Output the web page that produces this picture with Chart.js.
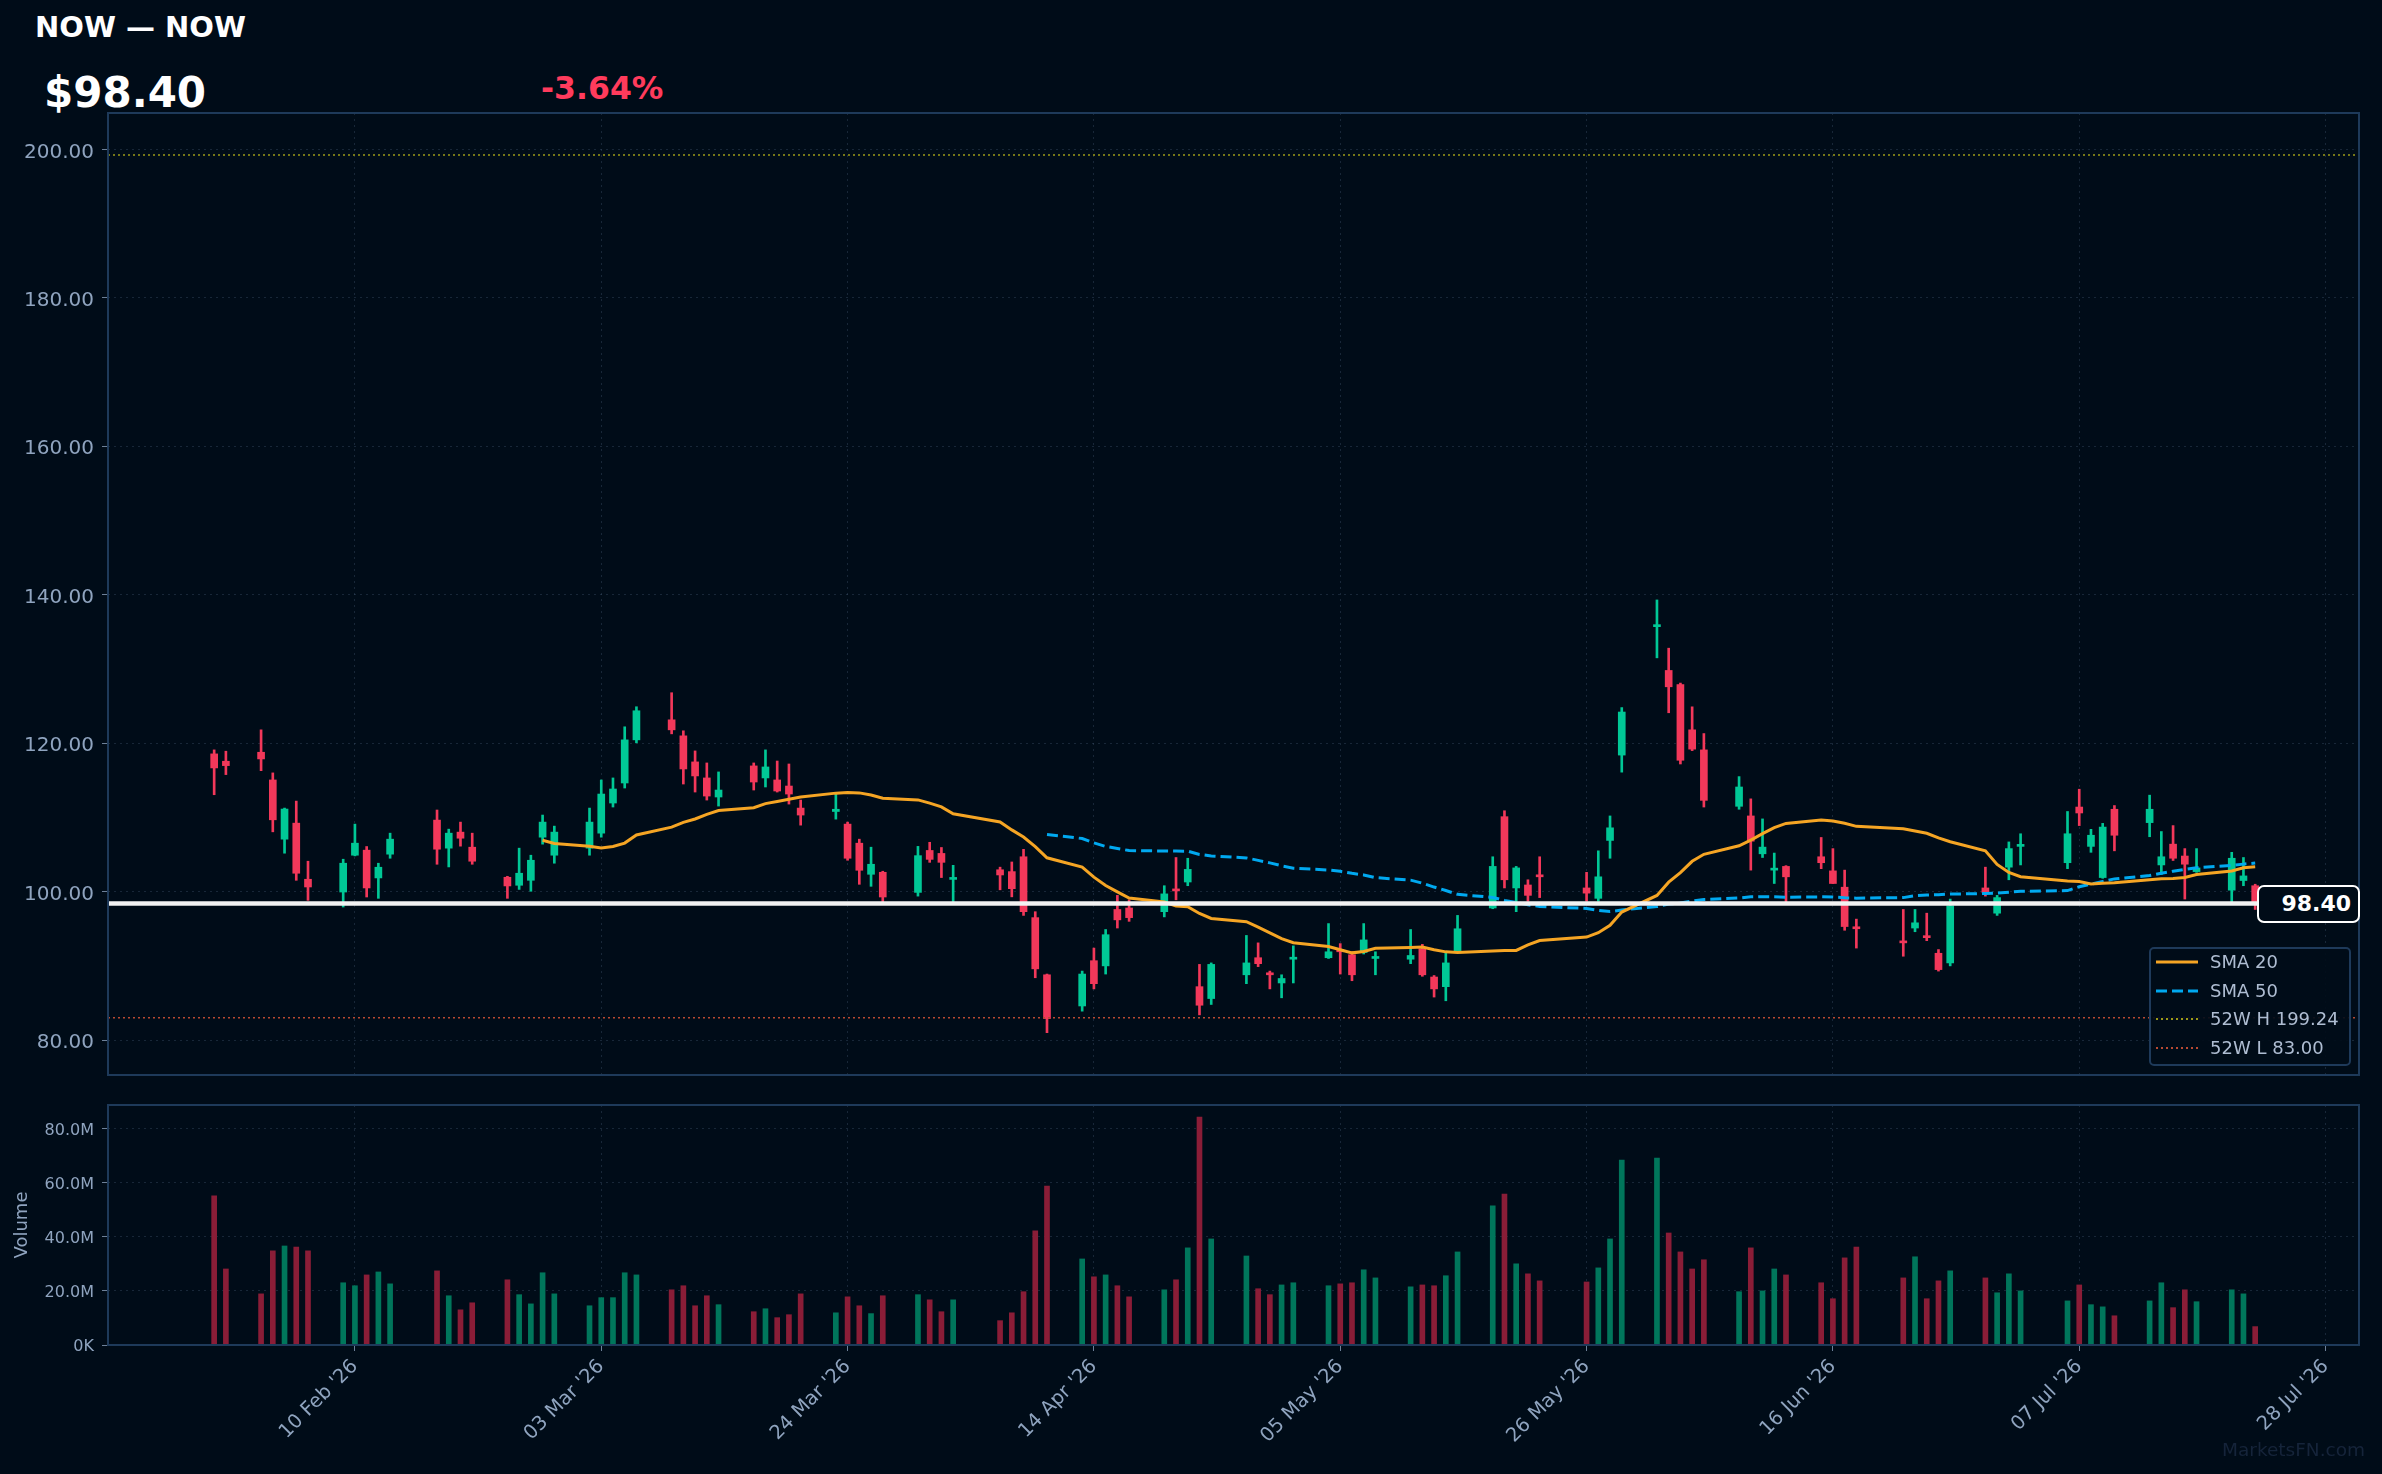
<!DOCTYPE html>
<html>
<head>
<meta charset="utf-8">
<script src="https://cdn.jsdelivr.net/npm/chart.js@4.4.1/dist/chart.umd.min.js"></script>
<style>
  html, body { margin:0; padding:0; background:#000c18; width:2382px; height:1474px; overflow:hidden; font-family:"DejaVu Sans", sans-serif; }
  canvas { position:absolute; left:0; top:0; }
  .t { position:absolute; white-space:nowrap; line-height:1; }
  #legend { position:absolute; left:2149px; top:947px; width:202px; height:119px; box-sizing:border-box;
            border:2px solid #1e3a5a; border-radius:5px; background:rgba(0,12,24,0.9); }
  #legend .row { position:absolute; left:5px; height:20px; line-height:20px; font-size:18px; color:#aebdd2; white-space:nowrap; }
  #legend svg { position:absolute; left:0; top:6px; }
  #legend span { position:absolute; left:54px; top:0; }
  #lastTag { position:absolute; left:2257px; width:103px; height:38px; box-sizing:border-box; border:2.5px solid #fff;
             border-radius:7px; background:#000c18; color:#fff; font-weight:bold; font-size:22px; line-height:33px;
             text-align:right; padding-right:7px; }
</style>
</head>
<body>
<div class="t" style="left:35px;top:13px;font-size:29px;font-weight:bold;color:#fff">NOW — NOW</div>
<div class="t" style="left:44px;top:72px;font-size:42px;font-weight:bold;color:#fff">$98.40</div>
<div class="t" style="left:541px;top:73px;font-size:31.5px;font-weight:bold;color:#ff3b5c">-3.64%</div>
<canvas id="main" width="2382" height="1474"></canvas>
<canvas id="vol" width="2382" height="1474"></canvas>
<div id="legend"></div>
<div id="lastTag"></div>
<div class="t" style="left:2222px;top:1441px;font-size:18.5px;color:#15243a">MarketsFN.com</div>
<script>
// daily candles
const dates = [
  '2026-01-29','2026-01-30',
  '2026-02-02','2026-02-03','2026-02-04','2026-02-05','2026-02-06',
  '2026-02-09','2026-02-10','2026-02-11','2026-02-12','2026-02-13',
  '2026-02-17','2026-02-18','2026-02-19','2026-02-20',
  '2026-02-23','2026-02-24','2026-02-25','2026-02-26','2026-02-27',
  '2026-03-02','2026-03-03','2026-03-04','2026-03-05','2026-03-06',
  '2026-03-09','2026-03-10','2026-03-11','2026-03-12','2026-03-13',
  '2026-03-16','2026-03-17','2026-03-18','2026-03-19','2026-03-20',
  '2026-03-23','2026-03-24','2026-03-25','2026-03-26','2026-03-27',
  '2026-03-30','2026-03-31','2026-04-01','2026-04-02',
  '2026-04-06','2026-04-07','2026-04-08','2026-04-09','2026-04-10',
  '2026-04-13','2026-04-14','2026-04-15','2026-04-16','2026-04-17',
  '2026-04-20','2026-04-21','2026-04-22','2026-04-23','2026-04-24',
  '2026-04-27','2026-04-28','2026-04-29','2026-04-30','2026-05-01',
  '2026-05-04','2026-05-05','2026-05-06','2026-05-07','2026-05-08',
  '2026-05-11','2026-05-12','2026-05-13','2026-05-14','2026-05-15',
  '2026-05-18','2026-05-19','2026-05-20','2026-05-21','2026-05-22',
  '2026-05-26','2026-05-27','2026-05-28','2026-05-29',
  '2026-06-01','2026-06-02','2026-06-03','2026-06-04','2026-06-05',
  '2026-06-08','2026-06-09','2026-06-10','2026-06-11','2026-06-12',
  '2026-06-15','2026-06-16','2026-06-17','2026-06-18',
  '2026-06-22','2026-06-23','2026-06-24','2026-06-25','2026-06-26',
  '2026-06-29','2026-06-30','2026-07-01','2026-07-02',
  '2026-07-06','2026-07-07','2026-07-08','2026-07-09','2026-07-10',
  '2026-07-13','2026-07-14','2026-07-15','2026-07-16','2026-07-17',
  '2026-07-20','2026-07-21','2026-07-22'
];
const opens = [
  118.56,117.57, 118.78,115.05,107.07,109.23,101.67, 99.95,104.91,105.59,101.85,105.05,
  109.64,105.86,108.02,105.99, 101.94,100.86,101.53,107.34,104.91,
  105.86,107.88,111.94,114.64,120.45, 123.15,120.99,117.48,115.32,112.75,
  116.94,115.32,115.05,114.23,111.26, 110.80,109.10,106.53,102.34,102.61,
  99.90,105.55,105.15,101.65, 102.95,102.70,104.70,96.50,88.80,
  84.60,90.70,90.00,97.60,97.80, 97.30,100.30,101.30,87.20,85.60,
  88.80,91.10,88.90,87.70,90.90, 91.10,92.20,91.50,91.80,91.00,
  90.90,92.30,88.50,87.20,91.90, 97.80,110.10,100.50,100.90,102.10,
  100.50,99.10,106.90,118.40, 135.70,129.80,127.90,121.80,119.10,
  111.50,110.20,105.10,102.90,103.40, 104.70,102.80,100.60,95.20,
  93.20,95.10,93.95,91.70,90.40, 100.50,97.10,103.30,106.10,
  103.90,111.40,106.10,101.90,111.10, 109.30,103.60,106.40,104.80,102.70,
  100.20,101.50,100.80
];
const highs = [
  119.10,118.92, 121.80,116.00,111.26,112.20,104.10, 104.37,109.10,106.08,103.83,107.88,
  111.00,108.42,109.37,107.88, 102.07,105.86,104.91,110.32,108.83,
  111.26,115.05,115.32,122.21,124.91, 126.80,121.67,118.96,117.34,116.13,
  117.34,119.10,117.60,117.20,112.34, 113.15,109.37,107.07,105.99,102.75,
  106.10,106.65,105.95,103.55, 103.30,104.00,105.70,97.30,88.90,
  89.30,92.40,94.90,99.50,98.90, 100.80,104.60,104.50,90.20,90.40,
  94.10,93.10,89.30,88.80,92.70, 95.70,93.00,91.90,95.70,91.90,
  94.90,92.90,88.70,91.90,96.80, 104.70,110.90,103.40,101.60,104.70,
  102.60,105.50,110.20,124.80, 139.30,132.80,128.10,124.90,121.30,
  115.50,112.50,109.80,105.20,103.50, 107.30,105.80,102.90,96.30,
  97.60,97.60,97.10,92.20,99.00, 103.30,99.50,106.70,107.80,
  110.80,113.80,108.40,109.20,111.60, 113.00,108.10,108.90,105.80,105.80,
  105.30,104.60,101.00
];
const lows = [
  113.06,115.77, 116.30,108.06,105.18,101.53,98.83, 97.93,104.82,99.28,99.10,104.50,
  103.69,103.33,106.13,103.69, 99.10,100.30,100.05,106.40,103.83,
  104.91,107.34,111.40,113.96,120.05, 121.26,114.50,113.42,112.34,111.53,
  113.69,114.10,113.42,111.80,108.96, 109.77,104.23,100.99,100.72,98.50,
  99.40,103.95,101.90,98.45, 100.25,99.30,96.80,88.40,81.00,
  83.90,86.90,88.90,95.10,96.00, 96.60,98.90,100.80,83.40,84.80,
  87.60,89.90,86.90,85.70,87.70, 91.00,88.90,88.00,91.60,88.80,
  90.30,88.60,85.80,85.30,91.80, 97.70,100.50,97.30,98.70,99.20,
  98.70,98.70,104.50,116.10, 131.50,124.10,117.20,119.00,111.40,
  111.10,102.90,104.60,101.10,98.50, 103.10,101.10,94.80,92.40,
  91.30,94.60,93.40,89.30,90.00, 99.40,96.80,101.60,103.60,
  103.10,108.90,105.30,101.80,105.50, 107.40,102.30,104.20,99.00,102.60,
  98.40,100.80,97.60
];
const closes = [
  116.67,116.98, 117.88,109.68,111.13,102.48,100.63, 103.83,106.53,100.50,103.29,107.07,
  105.72,107.88,107.20,104.10, 100.77,102.48,104.23,109.37,108.02,
  109.37,113.15,113.83,120.45,124.37, 121.80,116.53,115.59,112.88,113.69,
  114.77,116.80,113.56,113.15,110.32, 111.10,104.50,102.88,103.69,99.28,
  104.85,104.35,103.95,101.85, 102.25,100.40,97.30,89.60,82.90,
  88.90,87.60,94.20,96.20,96.50, 99.70,100.10,103.00,84.70,90.20,
  90.40,90.30,88.80,88.30,91.10, 91.90,91.90,88.80,93.50,91.10,
  91.40,88.80,86.90,90.40,95.00, 103.40,101.60,103.20,99.50,102.00,
  99.80,102.00,108.60,124.20, 135.90,127.60,117.70,119.20,112.30,
  114.10,106.80,106.00,103.00,102.00, 103.90,101.10,95.30,95.00,
  93.10,95.80,93.80,89.50,98.10, 99.90,99.20,105.80,106.30,
  107.80,110.60,107.60,108.70,107.60, 111.10,104.70,104.50,103.70,103.20,
  104.50,102.12,98.40
];
// volume in millions
const volumes = [
  55.1,28.1, 18.9,34.8,36.6,36.2,34.8, 23.0,21.9,25.9,27.0,22.6,
  27.4,18.2,13.0,15.6, 24.1,18.6,15.2,26.7,18.9,
  14.5,17.5,17.5,26.7,25.9, 20.4,21.9,14.5,18.2,14.9,
  12.3,13.4,10.1,11.2,18.9, 11.9,17.8,14.5,11.6,18.2,
  18.6,16.7,12.3,16.7, 9.0,11.9,19.7,42.2,58.7,
  31.8,25.2,25.9,21.9,17.8, 20.4,24.1,35.9,84.2,39.2,
  32.9,20.8,18.6,22.2,23.0, 21.9,22.6,23.0,27.8,24.8,
  21.5,22.2,21.9,25.6,34.4, 51.4,55.8,30.0,26.3,23.7,
  23.3,28.5,39.2,68.3, 69.1,41.4,34.4,28.1,31.5,
  19.7,35.9,20.0,28.1,25.9, 23.0,17.1,32.2,36.2,
  24.8,32.6,17.1,23.7,27.4, 24.8,19.3,26.3,20.0,
  16.3,22.2,14.9,14.1,10.8, 16.3,23.0,13.8,20.4,16.0,
  20.4,18.9,6.8
];
const tickDates = ['2026-02-10','2026-03-03','2026-03-24','2026-04-14','2026-05-05','2026-05-26','2026-06-16','2026-07-07','2026-07-28'];
const tickLabels = ["10 Feb '26","03 Mar '26","24 Mar '26","14 Apr '26","05 May '26","26 May '26","16 Jun '26","07 Jul '26","28 Jul '26"];
const priceTicks = [80, 100, 120, 140, 160, 180, 200];
const volumeTicks = [0, 20, 40, 60, 80];
const high52 = 199.24;
const low52 = 83.00;

const UP = '#00c896', DOWN = '#f2385a';
const VUP = '#00765b', VDOWN = '#8a1d37';
const ORANGE = '#f5a524', BLUE = '#00a9f0', OLIVE = '#9c9a18', RUST = '#b84a32';
const TXT = '#8fa4bf', GRID = 'rgba(70,92,118,0.35)', TICK = '#6d8098', FRAME = '#1e3a5a';

Chart.defaults.font.family = '"DejaVu Sans", sans-serif';

const DAY0 = Date.UTC(2026, 0, 20);
const toDay = s => (Date.parse(s + 'T00:00:00Z') - DAY0) / 86400000;
const xs = dates.map(toDay);
const tickXs = tickDates.map(toDay);
const X_MIN = -0.05, X_MAX = 191.85;
const last = closes[closes.length - 1];
const isUp = closes.map((c, i) => c >= opens[i]);

function sma(n){
  const out = [];
  for(let i = n - 1; i < closes.length; i++){
    let s = 0;
    for(let j = i - n + 1; j <= i; j++) s += closes[j];
    out.push({ x: xs[i], y: s / n });
  }
  return out;
}

const framePlugin = {
  id: 'frame',
  afterDraw(chart){
    const { ctx, chartArea: a } = chart;
    ctx.save();
    ctx.strokeStyle = FRAME;
    ctx.lineWidth = 2;
    ctx.strokeRect(a.left, a.top, a.right - a.left, a.bottom - a.top);
    ctx.restore();
  }
};

const xBase = {
  type: 'linear', min: X_MIN, max: X_MAX, offset: false,
  afterBuildTicks: s => { s.ticks = tickXs.map(v => ({ value: v })); },
  border: { display: false, dash: [2, 4] }
};

const hline = (y, color, width, dash, order) => ({
  type: 'line', data: [{ x: X_MIN, y }, { x: X_MAX, y }],
  borderColor: color, borderWidth: width, borderDash: dash, pointRadius: 0, order
});

const mainChart = new Chart(document.getElementById('main'), {
  type: 'bar',
  data: {
    datasets: [
      hline(last, '#f2f2f2', 4.5, [], 0),
      { type: 'line', label: 'SMA 20', data: sma(20), borderColor: ORANGE, borderWidth: 3, pointRadius: 0, tension: 0, order: 1 },
      { type: 'line', label: 'SMA 50', data: sma(50), borderColor: BLUE, borderWidth: 3, borderDash: [11, 5], pointRadius: 0, tension: 0, order: 2 },
      hline(high52, OLIVE, 1.5, [2, 3], 3),
      hline(low52, RUST, 1.5, [2, 3], 3),
      { type: 'bar', data: xs.map((x, i) => ({ x, y: [opens[i], closes[i]] })),
        backgroundColor: isUp.map(u => u ? UP : DOWN), barThickness: 7, minBarLength: 2, grouped: false, order: 4 },
      { type: 'bar', data: xs.map((x, i) => ({ x, y: [lows[i], highs[i]] })),
        backgroundColor: isUp.map(u => u ? UP : DOWN), barThickness: 2, grouped: false, order: 5 }
    ]
  },
  options: {
    responsive: false, animation: false, devicePixelRatio: 1,
    layout: { padding: { left: 0, top: 113, right: 23, bottom: 399 } },
    plugins: { legend: { display: false }, tooltip: { enabled: false } },
    scales: {
      x: Object.assign({}, xBase, {
        ticks: { display: false },
        grid: { color: GRID, drawTicks: false, offset: false },
        afterFit: s => { s.height = 0; }
      }),
      y: {
        min: 75.3, max: 204.9,
        afterBuildTicks: s => { s.ticks = priceTicks.map(v => ({ value: v })); },
        ticks: { color: TXT, font: { size: 20 }, padding: 8, labelOffset: 3, callback: v => v.toFixed(2) },
        grid: { color: GRID, tickColor: TICK, tickLength: 6, tickBorderDash: [] },
        border: { display: false, dash: [2, 4] },
        afterFit: s => { s.width = 108; }
      }
    }
  },
  plugins: [framePlugin]
});

new Chart(document.getElementById('vol'), {
  type: 'bar',
  data: {
    datasets: [{
      data: xs.map((x, i) => ({ x, y: volumes[i] })),
      backgroundColor: isUp.map(u => u ? VUP : VDOWN), barThickness: 5, grouped: false
    }]
  },
  options: {
    responsive: false, animation: false, devicePixelRatio: 1,
    layout: { padding: { left: 0, top: 1105, right: 23, bottom: 0 } },
    plugins: { legend: { display: false }, tooltip: { enabled: false } },
    scales: {
      x: Object.assign({}, xBase, {
        ticks: { color: TXT, font: { size: 19.5 }, minRotation: 45, maxRotation: 45, autoSkip: false, padding: 4,
                 callback: v => tickLabels[tickXs.indexOf(v)] },
        grid: { color: GRID, tickColor: TICK, tickLength: 6, tickBorderDash: [], offset: false },
        afterFit: s => { s.height = 129; }
      }),
      y: {
        min: 0, max: 88.7,
        afterBuildTicks: s => { s.ticks = volumeTicks.map(v => ({ value: v })); },
        ticks: { color: TXT, font: { size: 16 }, padding: 8, labelOffset: 2, callback: v => v === 0 ? '0K' : v.toFixed(1) + 'M' },
        grid: { color: GRID, tickColor: TICK, tickLength: 6, tickBorderDash: [] },
        border: { display: false, dash: [2, 4] },
        title: { display: true, text: 'Volume', color: TXT, font: { size: 18 }, padding: { top: 12, bottom: 0 } },
        afterFit: s => { s.width = 108; }
      }
    }
  },
  plugins: [framePlugin]
});

// last price tag
const tag = document.getElementById('lastTag');
tag.textContent = last.toFixed(2);
tag.style.top = (mainChart.scales.y.getPixelForValue(last) - 19) + 'px';

// legend
const legendItems = [
  { label: 'SMA 20', color: ORANGE, width: 3, dash: '' },
  { label: 'SMA 50', color: BLUE, width: 3, dash: '11 5' },
  { label: '52W H ' + high52.toFixed(2), color: OLIVE, width: 2, dash: '2 3' },
  { label: '52W L ' + low52.toFixed(2), color: RUST, width: 2, dash: '2 3' }
];
const legend = document.getElementById('legend');
legendItems.forEach((it, i) => {
  const row = document.createElement('div');
  row.className = 'row';
  row.style.top = (3 + i * 28.5) + 'px';
  row.style.width = '190px';
  row.innerHTML = `<svg width="42" height="8"><line x1="0" y1="4" x2="42" y2="4" stroke="${it.color}" stroke-width="${it.width}" stroke-dasharray="${it.dash}"/></svg><span>${it.label}</span>`;
  legend.appendChild(row);
});
</script>
</body>
</html>
